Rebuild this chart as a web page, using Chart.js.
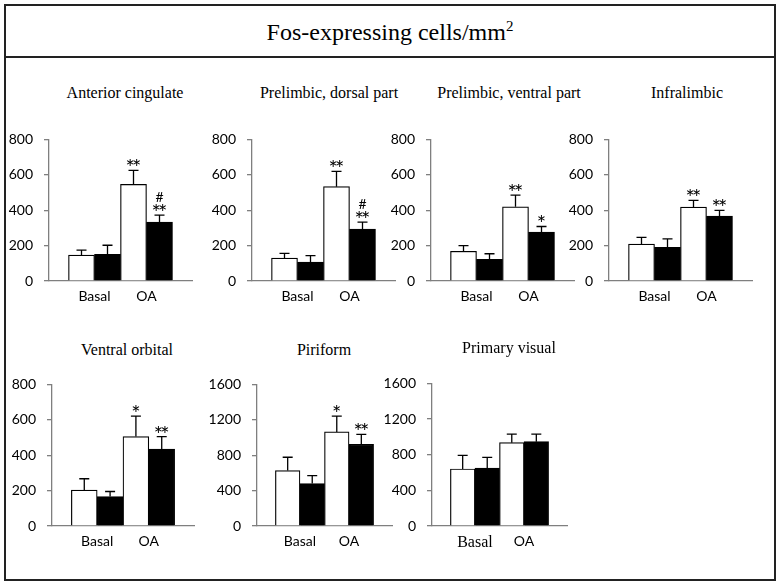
<!DOCTYPE html>
<html>
<head>
<meta charset="utf-8">
<script src="https://cdn.jsdelivr.net/npm/chart.js@4.4.0/dist/chart.umd.min.js"></script>
<style>
  body { margin: 0; background: #fff; width: 784px; height: 586px; position: relative; overflow: hidden; }
  #frame { position: absolute; left: 4px; top: 4px; width: 768px; height: 573px; border: 2px solid #222; }
  #head { position: absolute; left: 0; top: 0; width: 768px; height: 50px; border-bottom: 2px solid #222;
          font: 24px "Liberation Serif", serif; text-align: center; line-height: 52px; color: #000; }
  #head sup { font-size: 15px; vertical-align: 0; position: relative; top: -9px; }
  .ptitle { position: absolute; font: 16px "Liberation Serif", serif; color: #000; white-space: nowrap;
            transform: translate(-50%, -50%); }
  canvas { position: absolute; }
</style>
</head>
<body>
<div id="frame"><div id="head">Fos-expressing cells/mm<sup>2</sup></div></div>
<script>
// Data
const panelTitles = ['Anterior cingulate', 'Prelimbic, dorsal part', 'Prelimbic, ventral part', 'Infralimbic',
  'Ventral orbital', 'Piriform', 'Primary visual'];
const groups = ['Basal', 'OA'];
const whiteMean = [[146, 546], [129, 533], [168, 419], [209, 417], [203, 505], [627, 1063], [640, 935]];
const whiteSem  = [[29, 79], [27, 86], [32, 66], [38, 39], [64, 116], [150, 179], [153, 96]];
const blackMean = [[150, 333], [107, 293], [122, 276], [190, 367], [166, 435], [480, 923], [651, 946]];
const blackSem  = [[52, 39], [36, 40], [32, 32], [48, 32], [29, 70], [89, 112], [120, 85]];
const whiteSig  = [['', '**'], ['', '**'], ['', '**'], ['', '**'], ['', '*'], ['', '*'], ['', '']];
const blackSig  = [['', '**'], ['', '**'], ['', '*'], ['', '**'], ['', '**'], ['', '**'], ['', '']];
const blackHash = [['', '#'], ['', '#'], ['', ''], ['', ''], ['', ''], ['', ''], ['', '']];
const yLabels = [
  [0, 200, 400, 600, 800], [0, 200, 400, 600, 800], [0, 200, 400, 600, 800], [0, 200, 400, 600, 800],
  [0, 200, 400, 600, 800], [0, 400, 800, 1200, 1600], [0, 400, 800, 1200, 1600]
];

// Layout of each panel (pixels on the page)
const boxes = [
  { axisX: 49,  top: 132, bottom: 281, plotW: 143, tx: 125, ty: 93 },
  { axisX: 252, top: 132, bottom: 281, plotW: 143, tx: 329, ty: 93 },
  { axisX: 431, top: 132, bottom: 281, plotW: 143, tx: 509, ty: 93 },
  { axisX: 609, top: 132, bottom: 281, plotW: 143, tx: 687, ty: 93 },
  { axisX: 52,  top: 377, bottom: 526, plotW: 142, tx: 127, ty: 350 },
  { axisX: 257, top: 377, bottom: 526, plotW: 135, tx: 324, ty: 350 },
  { axisX: 432, top: 376, bottom: 526, plotW: 135, tx: 509, ty: 348 }
];
const AXIS_W = 52, PAD_TOP = 12, PAD_RIGHT = 6, X_AXIS_H = 30;
const AXIS_COLOR = '#7f7f7f';

Chart.defaults.font.family = 'Lato';
Chart.defaults.color = '#000';

// error bars + significance marks
const errorBars = {
  id: 'errorBars',
  afterDatasetsDraw(chart) {
    const c = chart.ctx;
    const y = chart.scales.y;
    chart.data.datasets.forEach((ds, di) => {
      chart.getDatasetMeta(di).data.forEach((bar, i) => {
        const top = y.getPixelForValue(ds.data[i].y + ds.sem[i]);
        c.save();
        c.strokeStyle = '#000';
        c.lineWidth = 1.3;
        c.beginPath();
        c.moveTo(bar.x, bar.y);
        c.lineTo(bar.x, top);
        c.moveTo(bar.x - 5, top);
        c.lineTo(bar.x + 5, top);
        c.stroke();
        c.fillStyle = '#000';
        c.textAlign = 'center';
        c.textBaseline = 'alphabetic';
        const s = ds.sig[i];
        if (s) {
          c.font = '22px Lato';
          // asterisks set close together
          for (let k = 0; k < s.length; k++) {
            c.fillText(s[k], bar.x + (k - (s.length - 1) / 2) * 6.5, top + 5);
          }
        }
        if (ds.hash && ds.hash[i]) {
          c.font = '14px Lato';
          c.fillText(ds.hash[i], bar.x, top - 13.5);
        }
        c.restore();
      });
    });
  }
};

panelTitles.forEach((title, p) => {
  const b = boxes[p];
  const t = document.createElement('div');
  t.className = 'ptitle';
  t.textContent = title;
  t.style.left = b.tx + 'px';
  t.style.top = b.ty + 'px';
  document.body.appendChild(t);

  const cv = document.createElement('canvas');
  const w = AXIS_W + b.plotW + PAD_RIGHT;
  const h = PAD_TOP + (b.bottom - b.top) + X_AXIS_H;
  cv.width = w;
  cv.height = h;
  cv.style.width = w + 'px';
  cv.style.height = h + 'px';
  cv.style.left = (b.axisX - AXIS_W) + 'px';
  cv.style.top = (b.top - PAD_TOP) + 'px';
  document.body.appendChild(cv);

  const labels = yLabels[p];
  const yMax = labels[labels.length - 1];
  const labelStep = labels[1];

  new Chart(cv, {
    type: 'bar',
    data: {
      datasets: [{
        data: groups.map((g, i) => ({ x: i, y: whiteMean[p][i] })),
        sem: whiteSem[p],
        sig: whiteSig[p],
        backgroundColor: '#fff',
        borderColor: '#000',
        borderWidth: 1.2
      }, {
        data: groups.map((g, i) => ({ x: i, y: blackMean[p][i] })),
        sem: blackSem[p],
        sig: blackSig[p],
        hash: blackHash[p],
        backgroundColor: '#000',
        borderColor: '#000',
        borderWidth: 1.2
      }]
    },
    options: {
      responsive: false,
      animation: false,
      devicePixelRatio: 1,
      layout: { padding: { top: PAD_TOP, right: PAD_RIGHT, left: 0, bottom: 0 } },
      datasets: { bar: { categoryPercentage: 1, barPercentage: 1 } },
      plugins: { legend: { display: false }, tooltip: { enabled: false } },
      scales: {
        x: {
          type: 'linear',
          offset: false,
          min: -0.875,
          max: 1.875,
          afterBuildTicks: (s) => { s.ticks = groups.map((g, i) => ({ value: i })); },
          afterFit: (s) => { s.height = X_AXIS_H; },
          grid: { display: false, drawTicks: false, offset: false },
          border: { display: true, color: AXIS_COLOR, width: 1.3 },
          ticks: {
            padding: 7,
            autoSkip: false,
            callback: (v) => groups[v],
            font: (ctx) => (p === 6 && ctx.index === 0)
              ? { family: 'Liberation Serif', size: 16 }
              : { family: 'Lato', size: 14 }
          }
        },
        y: {
          min: 0,
          max: yMax,
          afterFit: (s) => { s.width = AXIS_W; },
          grid: { display: true, drawOnChartArea: false, drawTicks: true, tickLength: 5, color: AXIS_COLOR, lineWidth: 1.3 },
          border: { display: true, color: AXIS_COLOR, width: 1.3 },
          ticks: {
            stepSize: labelStep / 2,
            padding: 11,
            font: { size: 14 },
            callback: (v) => labels.includes(v) ? String(v) : ''
          }
        }
      }
    },
    plugins: [errorBars]
  });
});
</script>
</body>
</html>
